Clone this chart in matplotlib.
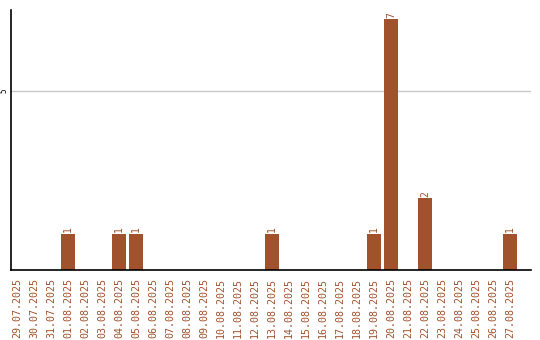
import matplotlib
matplotlib.use("Agg")
import matplotlib.pyplot as plt

dates = ["29.07.2025", "30.07.2025", "31.07.2025", "01.08.2025", "02.08.2025",
         "03.08.2025", "04.08.2025", "05.08.2025", "06.08.2025", "07.08.2025",
         "08.08.2025", "09.08.2025", "10.08.2025", "11.08.2025", "12.08.2025",
         "13.08.2025", "14.08.2025", "15.08.2025", "16.08.2025", "17.08.2025",
         "18.08.2025", "19.08.2025", "20.08.2025", "21.08.2025", "22.08.2025",
         "23.08.2025", "24.08.2025", "25.08.2025", "26.08.2025", "27.08.2025"]
counts = [0, 0, 0, 1, 0, 0, 1, 1, 0, 0, 0, 0, 0, 0, 0,
          1, 0, 0, 0, 0, 0, 1, 7, 0, 2, 0, 0, 0, 0, 1]

BROWN = "#a0522d"
MONO = "DejaVu Sans Mono"

fig = plt.figure(figsize=(5.4, 3.4), dpi=100)
ax = fig.add_axes([11 / 540, 70 / 340, 520 / 540, 260 / 340])

x = list(range(len(dates)))
ax.bar(x, counts, width=0.82, color=BROWN, zorder=2)

for xi, v in zip(x, counts):
    if v > 0:
        ax.text(xi, v + 0.05, str(v), rotation=90, ha="center", va="bottom",
                color=BROWN, fontsize=7, family=MONO)

ax.set_xlim(-0.35, 30.24)
ax.set_ylim(0, 7.26)
ax.set_yticks([5])
ax.set_yticklabels(["5"], rotation=90, va="center", fontsize=5.5, family=MONO)
ax.yaxis.grid(True, color="#c8c8c8", linewidth=1, zorder=0)
ax.tick_params(axis="y", length=0, pad=1.5)

ax.set_xticks(x)
ax.set_xticklabels(dates, rotation=90, color=BROWN, fontsize=7.2, family=MONO)
ax.tick_params(axis="x", length=0, pad=6)

for side in ("top", "right"):
    ax.spines[side].set_visible(False)
for side in ("left", "bottom"):
    ax.spines[side].set_linewidth(1.2)
    ax.spines[side].set_color("black")

fig.savefig("out.png", dpi=100)
